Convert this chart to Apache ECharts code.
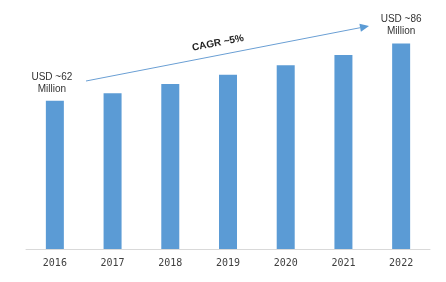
<!DOCTYPE html>
<html>
<head>
<meta charset="utf-8">
<script src="https://cdn.jsdelivr.net/npm/echarts@6/dist/echarts.min.js"></script>
<style>
  html, body { margin: 0; padding: 0; background: #fff; }
  #chart { width: 446px; height: 282px; }
</style>
</head>
<body>
<div id="chart"></div>
<script>
// market size, USD million
const years = ['2016', '2017', '2018', '2019', '2020', '2021', '2022']
const values = [62, 65.2, 69.0, 72.9, 76.9, 81.2, 86.0]
const startLabel = 'USD ~62\nMillion'
const endLabel = 'USD ~86\nMillion'
const cagrText = 'CAGR ~5%'

const chart = echarts.init(document.getElementById('chart'))

const labelStyle = {
  show: true,
  position: 'top',
  distance: 6,
  color: '#333',
  fontSize: 10,
  lineHeight: 12,
  fontFamily: 'Liberation Sans, Arial, sans-serif',
  align: 'center'
}

const barData = values.map((v, i) => {
  if (i === 0) return { value: v, label: Object.assign({}, labelStyle, { formatter: startLabel, offset: [-3, 0] }) }
  if (i === values.length - 1) return { value: v, label: Object.assign({}, labelStyle, { formatter: endLabel }) }
  return v
})

chart.setOption({
  animation: false,
  grid: { left: 26, right: 16, top: 10, bottom: 33 },
  xAxis: {
    type: 'category',
    data: years,
    axisLine: { lineStyle: { color: '#d9d9d9', width: 1 } },
    axisTick: { show: false },
    axisLabel: {
      color: '#404040',
      fontSize: 10,
      fontFamily: 'DejaVu Sans Mono, monospace',
      margin: 9
    }
  },
  yAxis: {
    type: 'value',
    min: 0,
    max: 100,
    show: false,
    splitLine: { show: false }
  },
  series: [
    {
      type: 'bar',
      data: barData,
      barWidth: 18,
      itemStyle: { color: '#5b9bd5' }
    }
  ]
})

// CAGR arrow (annotation, not data)
const x0 = 86, y0 = 81, x1 = 369, y1 = 26
const ang = Math.atan2(y1 - y0, x1 - x0)
const head = 9, hw = 4
const bx = x1 - head * Math.cos(ang), by = y1 - head * Math.sin(ang)
const px = -Math.sin(ang) * hw, py = Math.cos(ang) * hw

chart.setOption({
  graphic: [
    {
      type: 'line',
      shape: { x1: x0, y1: y0, x2: bx, y2: by },
      style: { stroke: '#6a9fd4', lineWidth: 1 }
    },
    {
      type: 'polygon',
      shape: { points: [[x1, y1], [bx + px, by + py], [bx - px, by - py]] },
      style: { fill: '#5b9bd5' }
    },
    {
      type: 'text',
      x: 218,
      y: 43,
      rotation: -ang,
      style: {
        text: cagrText,
        fill: '#222',
        font: 'bold 10px Liberation Sans, Arial, sans-serif',
        textAlign: 'center',
        textVerticalAlign: 'middle'
      }
    }
  ]
})
</script>
</body>
</html>
